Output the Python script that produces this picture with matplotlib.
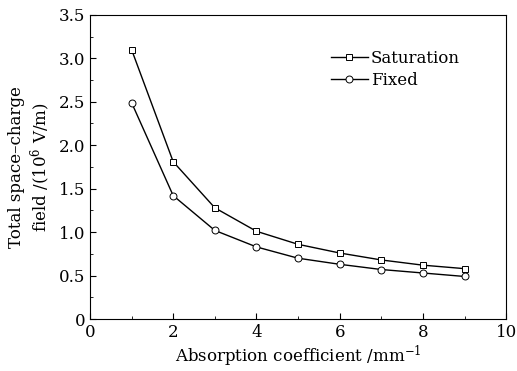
import numpy as np
import matplotlib
matplotlib.use("Agg")
import matplotlib.pyplot as plt
from matplotlib.ticker import MultipleLocator, FuncFormatter

absorption = [1, 2, 3, 4, 5, 6, 7, 8, 9]
saturation = [3.10, 1.81, 1.28, 1.01, 0.86, 0.76, 0.68, 0.62, 0.58]
fixed = [2.49, 1.42, 1.02, 0.83, 0.70, 0.63, 0.57, 0.53, 0.49]

plt.rcParams['font.family'] = ['DejaVu Serif']
plt.rcParams['mathtext.fontset'] = 'dejavuserif'

fig = plt.figure(figsize=(5.17, 3.71), dpi=100)
ax = fig.add_axes([0.174, 0.140, 0.805, 0.820])

ax.plot(absorption, saturation, color='black', lw=1, marker='s', ms=5,
        mfc='white', mec='black', mew=0.7, label='Saturation')
ax.plot(absorption, fixed, color='black', lw=1, marker='o', ms=5,
        mfc='white', mec='black', mew=0.7, label='Fixed')

ax.set_xlim(0, 10)
ax.set_ylim(0, 3.5)
ax.xaxis.set_major_locator(MultipleLocator(2))
ax.xaxis.set_minor_locator(MultipleLocator(1))
ax.yaxis.set_major_locator(MultipleLocator(0.5))
ax.yaxis.set_minor_locator(MultipleLocator(0.25))
ax.yaxis.set_major_formatter(FuncFormatter(lambda v, p: '0' if v == 0 else '%.1f' % v))
ax.tick_params(which='both', direction='in', labelsize=12)
ax.tick_params(which='major', length=4)
ax.tick_params(which='minor', length=2)

ax.set_xlabel('Absorption coefficient /mm$^{-1}$', fontsize=12, labelpad=2)
ax.set_ylabel('Total space\u2013charge\nfield /(10$^6$ V/m)', fontsize=12, labelpad=4)

ax.legend(loc='upper right', bbox_to_anchor=(0.925, 0.935), frameon=False, fontsize=12,
          handlelength=2.2, handletextpad=0.2, labelspacing=0.3)

fig.savefig('out.png', dpi=100)
